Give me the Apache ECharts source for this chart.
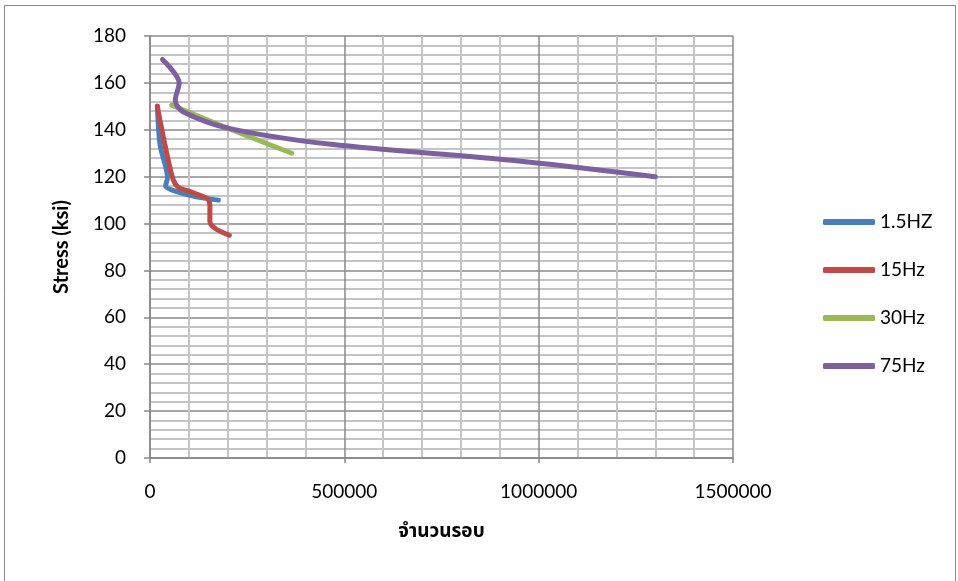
<!DOCTYPE html>
<html>
<head>
<meta charset="utf-8">
<script src="https://cdn.jsdelivr.net/npm/echarts@6/dist/echarts.min.js"></script>
<style>
  html, body { margin: 0; padding: 0; background: #fff; }
  #chart { width: 958px; height: 581px; }
</style>
</head>
<body>
<div id="chart"></div>
<script>
// Fatigue test data: cycles to failure (x) vs. stress amplitude in ksi (y)
const seriesNames = ['1.5HZ', '15Hz', '30Hz', '75Hz'];
const seriesColors = ['#4A7EBB', '#BE4B48', '#98B954', '#7D60A0'];

const cycles15 = [19000, 26000, 45000, 40000, 65000, 116000, 176000];
const stress15 = [150, 133.5, 119.5, 116, 113.8, 111.5, 110];

const cycles150 = [19000, 24000, 43000, 60000, 73000, 103000, 146000, 154000, 154000, 167000, 204000];
const stress150 = [150, 145.5, 130, 118.5, 115.5, 113.6, 110.8, 108, 101, 98, 95];

const cycles300 = [56000, 210000, 365000];
const stress300 = [150.5, 140, 130];

const cycles750 = [32000, 75000, 65000, 85000, 206000, 466000, 930000, 1300000];
const stress750 = [170, 160, 152.5, 147.7, 140.5, 133.8, 127, 120];

const xTicks = [0, 500000, 1000000, 1500000];
const yTicks = [0, 20, 40, 60, 80, 100, 120, 140, 160, 180];

const pairs = (xs, ys) => xs.map((x, i) => [x, ys[i]]);
const allData = [
  pairs(cycles15, stress15),
  pairs(cycles150, stress150),
  pairs(cycles300, stress300),
  pairs(cycles750, stress750)
];

const labelFont = "Lato, 'Open Sans', 'Noto Sans', sans-serif";
const thaiFont = "'Noto Sans Thai', 'Noto Sans Thai UI', 'Loma', 'Garuda', 'Noto Sans', sans-serif";

const chart = echarts.init(document.getElementById('chart'), null, { renderer: 'canvas' });
chart.setOption({
  animation: false,
  backgroundColor: '#ffffff',
  graphic: [{
    type: 'rect',
    shape: { x: 4.5, y: 5.5, width: 951, height: 600 },
    style: { fill: 'none', stroke: '#8a8a8a', lineWidth: 1 },
    silent: true
  }],
  grid: { left: 150, top: 36, width: 583, height: 422, containLabel: false },
  xAxis: {
    type: 'value',
    min: xTicks[0],
    max: xTicks[xTicks.length - 1],
    interval: 500000,
    name: 'จำนวนรอบ',
    nameLocation: 'middle',
    nameGap: 66,
    nameTextStyle: { fontFamily: thaiFont, fontSize: 19, fontWeight: 'bold', color: '#000' },
    axisLine: { show: true, lineStyle: { color: '#878787', width: 1.5 } },
    axisTick: { show: true, length: 5, lineStyle: { color: '#878787', width: 1.5 } },
    axisLabel: {
      formatter: v => String(v),
      fontFamily: labelFont, fontSize: 19, color: '#000', margin: 24
    },
    splitLine: { show: true, lineStyle: { color: '#888888', width: 1.5 } },
    minorTick: { show: false, splitNumber: 5 },
    minorSplitLine: { show: true, lineStyle: { color: '#c4c4c4', width: 2 } }
  },
  yAxis: {
    type: 'value',
    min: yTicks[0],
    max: yTicks[yTicks.length - 1],
    interval: 20,
    name: 'Stress (ksi)',
    nameLocation: 'middle',
    nameGap: 78,
    nameRotate: 90,
    nameTextStyle: { fontFamily: labelFont, fontSize: 20, fontWeight: 'bold', color: '#000' },
    axisLine: { show: true, lineStyle: { color: '#878787', width: 1.5 } },
    axisTick: { show: true, length: 6, lineStyle: { color: '#878787', width: 1.5 } },
    axisLabel: {
      formatter: v => String(v),
      fontFamily: labelFont, fontSize: 19, color: '#000', margin: 24
    },
    splitLine: { show: true, lineStyle: { color: '#888888', width: 1.5 } },
    minorTick: { show: false, splitNumber: 5 },
    minorSplitLine: { show: true, lineStyle: { color: '#c4c4c4', width: 2 } }
  },
  legend: {
    orient: 'vertical',
    left: 818,
    top: 206,
    itemWidth: 52,
    itemHeight: 6,
    itemGap: 26,
    icon: 'roundRect',
    textStyle: { fontFamily: labelFont, fontSize: 19, color: '#000', lineHeight: 22 },
    data: seriesNames
  },
  series: seriesNames.map((name, i) => ({
    name,
    type: 'line',
    data: allData[i],
    smooth: 0.3,
    showSymbol: false,
    symbol: 'none',
    color: seriesColors[i],
    lineStyle: { width: 5, color: seriesColors[i], cap: 'round', join: 'round' }
  }))
});
</script>
</body>
</html>
